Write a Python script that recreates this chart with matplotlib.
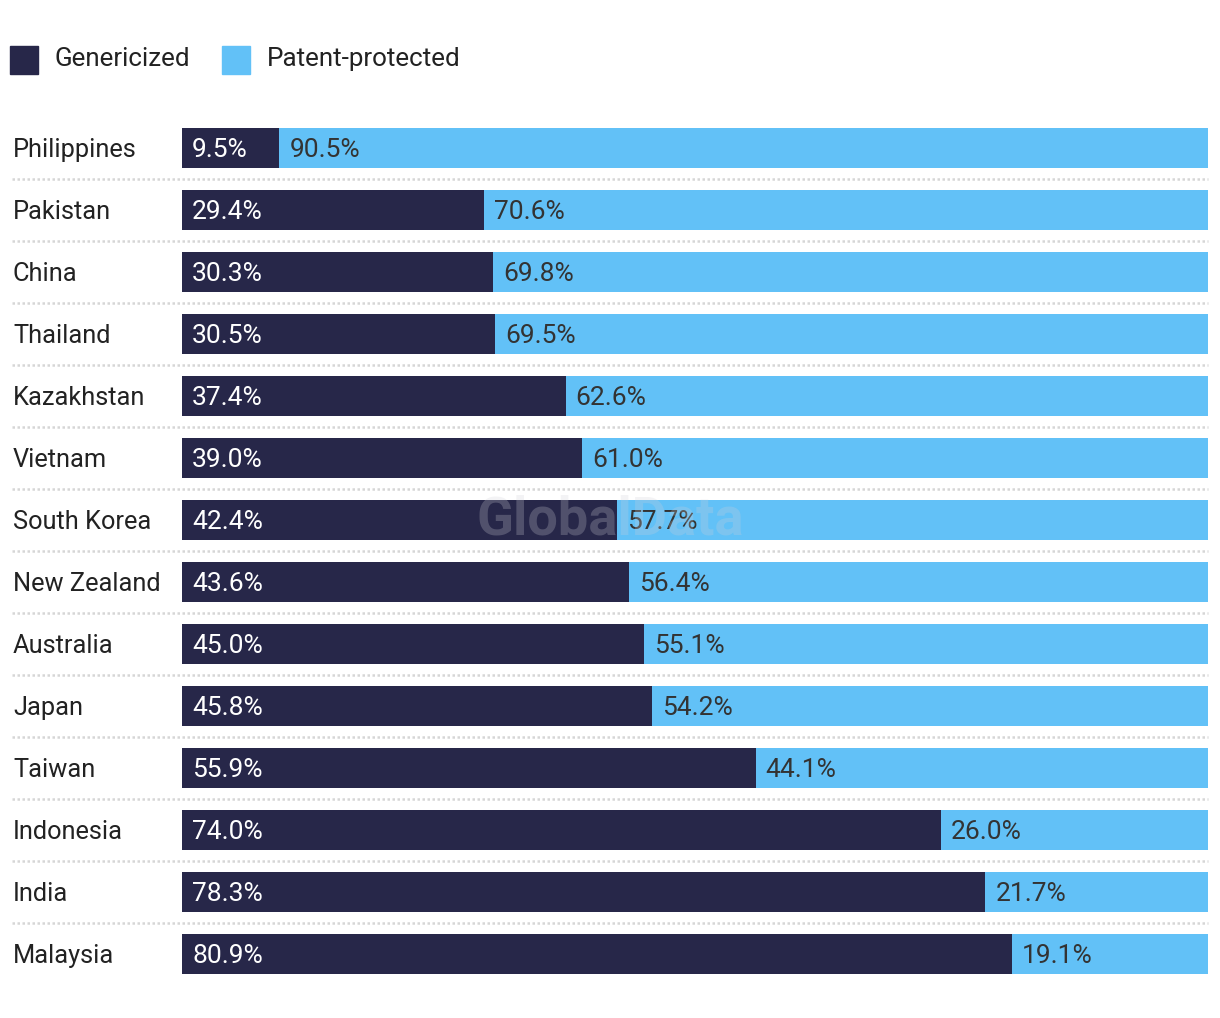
import matplotlib
matplotlib.use("Agg")
import matplotlib.pyplot as plt
from matplotlib.transforms import blended_transform_factory

countries = ["Philippines", "Pakistan", "China", "Thailand", "Kazakhstan", "Vietnam",
             "South Korea", "New Zealand", "Australia", "Japan", "Taiwan", "Indonesia",
             "India", "Malaysia"]
genericized = [9.5, 29.4, 30.3, 30.5, 37.4, 39.0, 42.4, 43.6, 45.0, 45.8, 55.9, 74.0, 78.3, 80.9]
patent_protected = [90.5, 70.6, 69.8, 69.5, 62.6, 61.0, 57.7, 56.4, 55.1, 54.2, 44.1, 26.0, 21.7, 19.1]

DARK = "#272749"
LIGHT = "#62C1F7"
plt.rcParams['font.family'] = ['Roboto', 'DejaVu Sans']

W, H = 1220, 1018
fig = plt.figure(figsize=(W / 100, H / 100), dpi=100)
ax = fig.add_axes([182 / W, 33 / H, 1026 / W, 868 / H])

y = list(range(len(countries)))
ax.barh(y, genericized, height=0.645, color=DARK)
ax.barh(y, patent_protected, left=genericized, height=0.645, color=LIGHT)
ax.set_xlim(0, 100)
ax.set_ylim(len(countries) - 0.5, -0.5)
ax.axis("off")

tr = blended_transform_factory(fig.transFigure, ax.transData)
for i, (c, g, p) in enumerate(zip(countries, genericized, patent_protected)):
    ax.annotate(c, (13 / W, i), xycoords=tr, xytext=(0, -1.2), textcoords="offset points",
                va="center", ha="left", fontsize=18.3, color="#222222")
    ax.annotate(f"{g:.1f}%", (0, i), xytext=(7.2, -1.2), textcoords="offset points",
                va="center", ha="left", fontsize=19, color="white")
    ax.annotate(f"{p:.1f}%", (g, i), xytext=(7.2, -1.2), textcoords="offset points",
                va="center", ha="left", fontsize=19, color="#333333")
    if i < len(countries) - 1:
        ax.plot([12 / W, 1208 / W], [i + 0.5, i + 0.5], transform=tr, color="#d6d6d6",
                linestyle=(0, (1, 1)), linewidth=1.8, clip_on=False)

# watermark
ax.text(610 / W, 6, "GlobalData", transform=tr, ha="center", va="center",
        fontsize=39, fontweight="bold", color="#d0d0d8", alpha=0.25)

# legend
fig.patches.append(plt.Rectangle((10 / W, 1 - 74 / H), 28 / W, 28 / H, color=DARK,
                                 transform=fig.transFigure))
fig.patches.append(plt.Rectangle((222 / W, 1 - 74 / H), 28 / W, 28 / H, color=LIGHT,
                                 transform=fig.transFigure))
fig.text(55 / W, 1 - 59 / H, "Genericized", fontsize=18.7, va="center", ha="left", color="#222222")
fig.text(267 / W, 1 - 59 / H, "Patent-protected", fontsize=18.7, va="center", ha="left", color="#222222")

fig.savefig("out.png", dpi=100, facecolor="white")
